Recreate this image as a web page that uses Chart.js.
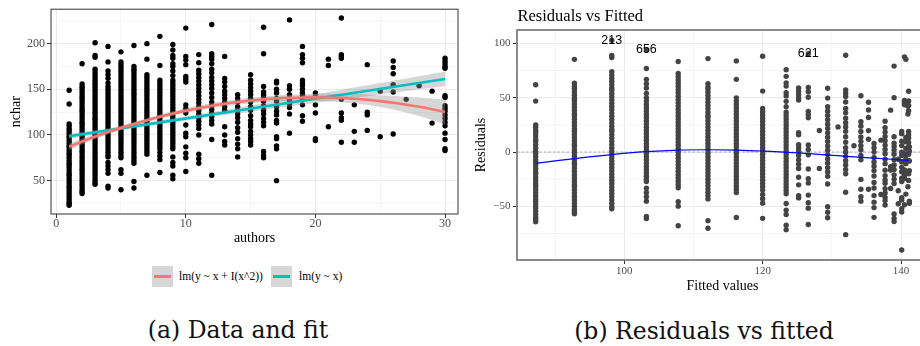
<!DOCTYPE html>
<html>
<head>
<meta charset="utf-8">
<script src="https://cdn.jsdelivr.net/npm/chart.js@4.4.1/dist/chart.umd.min.js"></script>
<style>
  html, body { margin: 0; padding: 0; background: #fff; }
  body { width: 920px; height: 346px; position: relative; overflow: hidden; }
  canvas { position: absolute; }
  #fitChart { left: 0; top: 0; }
  #residChart { left: 460px; top: 0; }
  .key { position: absolute; width: 21px; height: 21px; background: #d6d6d6; }
  .key span { position: absolute; left: 2px; right: 2px; top: 9px; height: 3px; }
  .ktext { position: absolute; font: 11.5px "Liberation Serif", serif; color: #000; line-height: 21px; white-space: nowrap; }
  .caption { position: absolute; font: 23.5px "DejaVu Serif", serif; color: #111; white-space: nowrap; transform: translateX(-50%); line-height: 30px; }
</style>
</head>
<body>
<canvas id="fitChart" width="462" height="250"></canvas>
<canvas id="residChart" width="472" height="300"></canvas>

<div class="key" style="left:152px;top:266px"><span style="background:#F8766D"></span></div>
<div class="ktext" style="left:179px;top:266px">lm(y ~ x + I(x^2))</div>
<div class="key" style="left:271px;top:266px"><span style="background:#00BFC4"></span></div>
<div class="ktext" style="left:299px;top:266px">lm(y ~ x)</div>

<div class="caption" style="left:238px;top:315px">(a) Data and fit</div>
<div class="caption" style="left:704px;top:316px">(b) Residuals vs fitted</div>

<script>
// number of authors (x) and the nchar values seen in each column
const authors = [1, 2, 3, 4, 5, 6, 7, 8, 9, 10, 11, 12, 13, 14, 15,
                 16, 17, 18, 19, 20, 21, 22, 23, 24, 25, 26, 27, 28, 29, 30];
const nchar = [
  [149, 134, 112, 110, 107, 105, 102, 99, 97, 94, 91, 88, 86, 83, 80, 78, 75, 72, 69, 67, 64, 61, 58, 56, 53, 50, 47, 44, 42, 39, 36, 33, 30, 27, 25, 23],
  [178, 156, 153, 151, 148, 145, 142, 140, 137, 134, 131, 128, 126, 123, 120, 117, 114, 112, 109, 106, 103, 100, 98, 95, 92, 89, 86, 83, 81, 78, 75, 72, 69, 66, 63, 61, 58, 55, 52, 49, 46, 43, 40, 38, 36],
  [201, 187, 185, 172, 169, 166, 163, 160, 157, 155, 152, 149, 146, 143, 140, 137, 134, 131, 128, 125, 122, 119, 117, 114, 111, 108, 105, 102, 99, 96, 93, 90, 87, 84, 81, 78, 75, 72, 69, 66, 63, 60, 57, 54, 51, 48, 46],
  [197, 180, 170, 166, 162, 157, 153, 150, 147, 144, 141, 138, 135, 132, 129, 126, 123, 120, 117, 114, 111, 108, 105, 102, 99, 96, 93, 90, 87, 84, 81, 78, 76, 70, 66, 62, 58, 44, 42],
  [191, 180, 177, 174, 171, 168, 165, 162, 159, 156, 153, 150, 147, 144, 141, 138, 135, 132, 129, 126, 123, 120, 117, 114, 111, 108, 105, 102, 99, 96, 93, 90, 87, 84, 81, 78, 75, 62, 58, 40],
  [198, 175, 172, 170, 167, 164, 161, 158, 155, 152, 149, 146, 144, 141, 138, 135, 132, 129, 126, 123, 120, 117, 114, 111, 108, 105, 102, 99, 96, 93, 90, 87, 84, 81, 78, 75, 72, 69, 49, 42],
  [200, 183, 166, 163, 160, 157, 154, 151, 148, 145, 142, 139, 136, 133, 130, 127, 124, 121, 118, 115, 112, 109, 106, 103, 100, 97, 94, 91, 88, 85, 82, 79, 56],
  [208, 176, 160, 157, 154, 151, 148, 145, 142, 139, 136, 133, 130, 127, 124, 121, 118, 115, 112, 109, 106, 103, 100, 97, 94, 91, 88, 85, 81, 77, 73, 59],
  [199, 193, 187, 184, 178, 175, 170, 165, 160, 157, 154, 151, 148, 145, 142, 139, 136, 133, 130, 127, 124, 121, 118, 115, 112, 109, 106, 103, 100, 97, 94, 91, 88, 85, 76, 70, 66, 56, 52],
  [217, 186, 182, 177, 164, 161, 158, 133, 129, 124, 111, 102, 98, 87, 80, 75, 60],
  [188, 179, 171, 167, 163, 159, 155, 151, 147, 143, 139, 135, 131, 127, 123, 119, 115, 111, 107, 100, 79, 74, 69],
  [221, 189, 186, 183, 178, 172, 168, 163, 159, 155, 151, 146, 141, 136, 132, 128, 124, 120, 116, 112, 95, 56],
  [186, 162, 158, 153, 148, 144, 140, 136, 131, 127, 109, 100, 93, 89],
  [144, 140, 136, 131, 127, 123, 119, 114, 108, 103, 96, 90, 85, 76],
  [166, 160, 156, 152, 148, 144, 140, 136, 131, 127, 121, 116, 112, 109, 104, 100, 96, 93, 89],
  [218, 189, 153, 147, 144, 141, 137, 132, 127, 123, 118, 114, 110, 82, 78, 75],
  [159, 157, 150, 146, 140, 137, 131, 126, 122, 116, 113, 98, 96, 88, 85, 50],
  [226, 154, 150, 144, 138, 134, 130, 123, 102],
  [197, 188, 184, 179, 160, 157, 154, 150, 146, 143, 139, 133, 121, 115],
  [146, 142, 133, 124, 96, 94],
  [183, 176, 109],
  [228, 188, 186, 184, 139, 124, 119, 116, 92],
  [133, 104, 92],
  [177, 125, 122, 105],
  [148, 98],
  [181, 174, 167, 155, 147, 101],
  [139],
  [154],
  [148, 113],
  [184, 181, 178, 175, 173, 143, 141, 132, 129, 126, 122, 118, 114, 110, 102, 95, 85, 83]
];

// quadratic fit at each author count (red curve, also the fitted values of panel b)
const fittedQuad = [87.2, 92.8, 98.2, 103.2, 107.8, 112.1, 116.2, 120.0, 123.4, 126.6,
                    129.4, 132.0, 134.2, 136.1, 137.7, 139.0, 140.1, 140.7, 141.1, 141.2,
                    141.0, 140.5, 139.6, 138.5, 137.1, 135.3, 133.2, 130.9, 128.2, 125.2];
// confidence band of the quadratic fit
const quadBandX = [1, 3, 5, 7, 10, 13, 16, 19, 22, 25, 28, 30];
const quadLower = [83.6, 95.4, 105.5, 114.0, 124.0, 131.2, 135.8, 137.5, 135.9, 130.7, 120.9, 111.6];
const quadUpper = [90.8, 101.0, 110.1, 118.4, 129.2, 137.2, 142.2, 144.7, 145.1, 143.5, 140.9, 138.8];
// linear fit and its band
const linX = [1, 5, 10, 15, 20, 25, 30];
const linFit = [98.6, 107.2, 118.1, 128.9, 139.7, 150.5, 161.3];
const linLower = [95.9, 105.1, 115.8, 125.5, 134.9, 144.2, 153.5];
const linUpper = [101.3, 109.3, 120.4, 132.3, 144.5, 156.8, 169.1];

// smoother of the residuals (blue line)
const smoothX = [87.2, 92.8, 98.1, 103.1, 107.8, 112.2, 116.3, 120.1, 123.5, 126.7, 129.5, 132.1, 134.3, 138.0, 141.1];
const smoothY = [-10.4, -6.1, -2.4, 0.3, 1.8, 2.1, 1.8, 0.9, -0.3, -1.5, -2.8, -4.0, -4.9, -6.4, -7.7];

// labelled observations
const obsNames = ['213', '656', '621'];
const obsAuthors = [3, 4, 10];
const obsNchar = [201, 197, 217];

const pts = (xs, ys) => xs.map((x, i) => ({ x: x, y: ys[i] }));

const rawPoints = [];
const residPoints = [];
authors.forEach((a, i) => {
  nchar[i].forEach(v => {
    rawPoints.push({ x: a, y: v });
    residPoints.push({ x: fittedQuad[i], y: v - fittedQuad[i] });
  });
});

const SERIF = '"Liberation Serif", "Times New Roman", serif';
Chart.defaults.font.family = SERIF;
Chart.defaults.animation = false;

// panel frame
const framePlugin = {
  id: 'frame',
  afterDraw(chart, args, opts) {
    const { ctx, chartArea: a } = chart;
    ctx.save();
    ctx.strokeStyle = opts.color;
    ctx.lineWidth = opts.width;
    ctx.strokeRect(a.left, a.top, a.right - a.left, a.bottom - a.top);
    ctx.restore();
  }
};

const gridColor = (major) => (ctx) => (ctx.tick && major(ctx.tick.value)) ? '#ebebeb' : '#f5f5f5';
const tickColor = (major, col) => (ctx) => (ctx.tick && major(ctx.tick.value)) ? col : 'rgba(0,0,0,0)';
const band = 'rgba(153,153,153,0.4)';

// ---------- (a) data and fit ----------
const x10 = v => Math.abs(v % 10) < 1e-6;
const y50 = v => Math.abs(v % 50) < 1e-6;

new Chart(document.getElementById('fitChart'), {
  type: 'line',
  data: {
    datasets: [
      { data: rawPoints, showLine: false, pointRadius: 2.7, pointBorderWidth: 0,
        pointBackgroundColor: '#000', order: 3 },
      { data: pts(quadBandX, quadLower), pointRadius: 0, borderWidth: 0, fill: false, tension: 0.4, order: 2 },
      { data: pts(quadBandX, quadUpper), pointRadius: 0, borderWidth: 0, fill: 1, backgroundColor: band, tension: 0.4, order: 2 },
      { data: pts(linX, linLower), pointRadius: 0, borderWidth: 0, fill: false, tension: 0.4, order: 2 },
      { data: pts(linX, linUpper), pointRadius: 0, borderWidth: 0, fill: 3, backgroundColor: band, tension: 0.4, order: 2 },
      { data: pts(authors, fittedQuad), pointRadius: 0, borderColor: '#F8766D', borderWidth: 2.6, tension: 0.4, order: 1 },
      { data: pts([linX[0], linX[linX.length - 1]], [linFit[0], linFit[linFit.length - 1]]),
        pointRadius: 0, borderColor: '#00BFC4', borderWidth: 2.6, order: 1 }
    ]
  },
  options: {
    responsive: false,
    layout: { padding: { top: 9, right: 3, left: 0, bottom: 0 } },
    plugins: { legend: { display: false }, tooltip: { enabled: false },
               frame: { color: '#333333', width: 1 } },
    scales: {
      x: {
        type: 'linear', min: -0.4, max: 31.0,
        afterFit: s => { s.height = 36; },
        border: { display: false },
        grid: { color: gridColor(x10), lineWidth: 1, tickLength: 4, tickColor: tickColor(x10, '#333') },
        ticks: { stepSize: 5, includeBounds: false, autoSkip: false, maxRotation: 0, padding: 0,
                 color: '#4d4d4d', font: { family: SERIF, size: 12, lineHeight: 1 },
                 callback: v => x10(v) ? v : '' },
        title: { display: true, text: 'authors', color: '#000', font: { family: SERIF, size: 14 }, padding: { top: 0, bottom: 3 } }
      },
      y: {
        min: 13.5, max: 237.7,
        afterFit: s => { s.width = 51; },
        border: { display: false },
        grid: { color: gridColor(y50), lineWidth: 1, tickLength: 4, tickColor: tickColor(y50, '#333') },
        ticks: { stepSize: 25, includeBounds: false, autoSkip: false, padding: 2,
                 color: '#4d4d4d', font: { family: SERIF, size: 12 },
                 callback: v => y50(v) ? v : '' },
        title: { display: true, text: 'nchar', color: '#000', font: { family: SERIF, size: 14 }, padding: { top: 8, bottom: 0 } }
      }
    }
  },
  plugins: [framePlugin]
});

// ---------- (b) residuals vs fitted ----------
const x20 = v => Math.abs(v % 20) < 1e-6;

const residExtras = {
  id: 'residExtras',
  afterDatasetsDraw(chart) {
    const { ctx, scales: { x, y }, chartArea } = chart;
    ctx.save();
    ctx.fillStyle = '#000';
    ctx.font = '12.5px "Liberation Sans", sans-serif';
    ctx.textAlign = 'center';
    ctx.textBaseline = 'middle';
    obsNames.forEach((name, i) => {
      const f = fittedQuad[obsAuthors[i] - 1];
      ctx.fillText(name, x.getPixelForValue(f), y.getPixelForValue(obsNchar[i] - f));
    });
    // title
    ctx.textAlign = 'left';
    ctx.textBaseline = 'alphabetic';
    ctx.font = '16.5px ' + SERIF;
    ctx.fillText('Residuals vs Fitted', chartArea.left + 0.5, 20.5);
    ctx.restore();
  }
};

new Chart(document.getElementById('residChart'), {
  type: 'line',
  data: {
    datasets: [
      { data: residPoints, showLine: false, pointRadius: 2.7, pointBorderWidth: 0,
        pointBackgroundColor: '#444444', order: 2 },
      { data: pts([84.5, 143.9], [0, 0]), pointRadius: 0, borderColor: '#8c8c8c', borderWidth: 0.7,
        borderDash: [2.5, 2], order: 3 },
      { data: pts(smoothX, smoothY), pointRadius: 0, borderColor: '#0000ff', borderWidth: 1.2, tension: 0.4, order: 1 }
    ]
  },
  options: {
    responsive: false,
    layout: { padding: { top: 30, right: 2, left: 0, bottom: 0 } },
    plugins: { legend: { display: false }, tooltip: { enabled: false },
               frame: { color: '#7f7f7f', width: 1.8 } },
    scales: {
      x: {
        type: 'linear', min: 84.5, max: 143.9,
        afterFit: s => { s.height = 40; },
        border: { display: false },
        grid: { color: gridColor(x20), lineWidth: 1, tickLength: 4, tickColor: tickColor(x20, '#333') },
        ticks: { stepSize: 10, includeBounds: false, autoSkip: false, maxRotation: 0, padding: 2,
                 color: '#4d4d4d', font: { family: SERIF, size: 11, lineHeight: 1 },
                 callback: v => x20(v) ? v : '' },
        title: { display: true, text: 'Fitted values', color: '#000', font: { family: SERIF, size: 14 }, padding: { top: 0, bottom: 5.5 } }
      },
      y: {
        min: -99.3, max: 112.2,
        afterFit: s => { s.width = 57; },
        border: { display: false },
        grid: { color: gridColor(y50), lineWidth: 1, tickLength: 4, tickColor: tickColor(y50, '#333') },
        ticks: { stepSize: 25, includeBounds: false, autoSkip: false, padding: 2.5,
                 color: '#4d4d4d', font: { family: SERIF, size: 11 },
                 callback: v => y50(v) ? (v < 0 ? '\u2212' + (-v) : v) : '' },
        title: { display: true, text: 'Residuals', color: '#000', font: { family: SERIF, size: 14 }, padding: { top: 13, bottom: 0 } }
      }
    }
  },
  plugins: [framePlugin, residExtras]
});
</script>
</body>
</html>
